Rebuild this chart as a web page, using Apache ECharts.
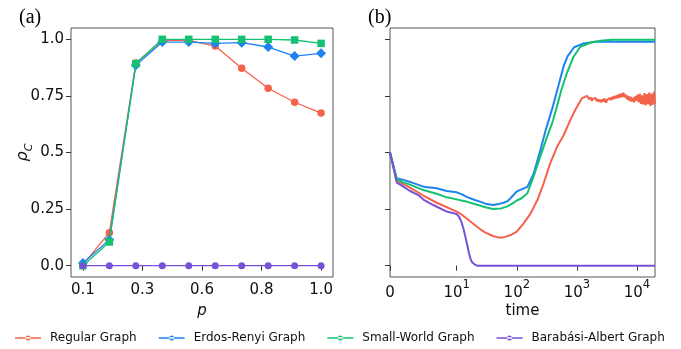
<!DOCTYPE html>
<html><head><meta charset="utf-8">
<script src="https://cdn.jsdelivr.net/npm/echarts@6/dist/echarts.min.js"></script>
<style>html,body{margin:0;padding:0;background:#fff}#c{width:681px;height:349px}</style>
</head><body><div id="c"></div>
<script>
// ---------- data ----------
const seriesNames = ['Regular Graph', 'Erdos-Renyi Graph', 'Small-World Graph', 'Barabási-Albert Graph'];

// panel (a): rho_C versus p
const pValues   = [0.1, 0.2, 0.3, 0.4, 0.5, 0.6, 0.7, 0.8, 0.9, 1.0];
const regularA  = [0.005, 0.146, 0.895, 0.995, 0.995, 0.970, 0.872, 0.784, 0.722, 0.674];
const erdosA    = [0.012, 0.115, 0.885, 0.988, 0.988, 0.982, 0.985, 0.966, 0.926, 0.938];
const smallA    = [0.000, 0.105, 0.893, 1.000, 1.000, 1.000, 1.000, 1.000, 0.997, 0.982];
const baA       = [0, 0, 0, 0, 0, 0, 0, 0, 0, 0];

const pTickValues   = [0.1, 0.325, 0.55, 0.775, 1.0];
const pTickLabels   = ['0.1', '0.3', '0.6', '0.8', '1.0'];
const rhoTickValues = [0, 0.25, 0.5, 0.75, 1.0];
const rhoTickLabels = ['0.0', '0.25', '0.5', '0.75', '1.0'];

// panel (b): rho_C versus time (symlog time axis)
const regularTime = [0, 1, 2, 3, 5, 7, 10, 12, 15, 20, 25, 30, 40, 50, 60, 80, 100, 130, 170, 220, 280, 360, 470, 600, 780, 940, 1100, 1210, 1300, 1470,
  1550, 1620, 1700, 1780, 1860, 1950, 2040, 2130, 2230, 2330, 2440, 2550, 2670, 2790, 2920, 3050, 3190, 3340, 3490, 3650, 3820, 4000, 4180, 4370, 4570,
  4780, 5000, 5230, 5470, 5720, 5980, 6250, 6540, 6840, 7150, 7480, 7820, 8180, 8550, 8940, 9350, 9780, 10230, 10700, 11190, 11700, 12240, 12800,
  13390, 14000, 14640, 15310, 16010, 16740, 17510, 18310, 19150, 20000];
const regularVal = [0.500, 0.379, 0.360, 0.345, 0.310, 0.278, 0.239, 0.226, 0.206, 0.180, 0.160, 0.146, 0.131, 0.124, 0.125, 0.136, 0.150, 0.187, 0.231, 0.290, 0.364, 0.452, 0.526, 0.575, 0.644, 0.688, 0.720, 0.739, 0.745, 0.750,
  0.742, 0.735, 0.744, 0.728, 0.738, 0.730, 0.741, 0.727, 0.736, 0.724, 0.733, 0.722, 0.735, 0.725, 0.738, 0.720, 0.732, 0.726, 0.741, 0.731, 0.746, 0.735, 0.749, 0.738, 0.752,
  0.740, 0.757, 0.742, 0.760, 0.745, 0.764, 0.744, 0.755, 0.735, 0.750, 0.728, 0.746, 0.725, 0.742, 0.722, 0.748, 0.728, 0.755, 0.722, 0.760, 0.715, 0.752, 0.712,
  0.762, 0.708, 0.758, 0.714, 0.765, 0.705, 0.760, 0.710, 0.768, 0.715];

const erdosTime = [0, 1, 2, 3, 5, 7, 8.5, 10, 12, 15, 20, 25, 30, 40, 50, 60, 70, 80, 100, 120, 150, 190, 250, 300, 400, 500, 600, 700, 900, 1300, 2000, 5000, 20000];
const erdosVal  = [0.500, 0.386, 0.379, 0.370, 0.349, 0.342, 0.330, 0.324, 0.316, 0.303, 0.290, 0.282, 0.274, 0.268, 0.272, 0.278, 0.285, 0.300, 0.328, 0.337, 0.348, 0.405, 0.515, 0.595, 0.705, 0.800, 0.880, 0.925, 0.965, 0.982, 0.989, 0.989, 0.989];

const smallTime = [0, 1, 2, 3, 5, 7, 8.5, 10, 12, 15, 18, 25, 30, 40, 55, 70, 85, 100, 120, 150, 190, 245, 320, 400, 465, 550, 680, 880, 1140, 1670, 2450, 3830, 8000, 20000];
const smallVal  = [0.500, 0.382, 0.368, 0.358, 0.334, 0.318, 0.302, 0.293, 0.288, 0.282, 0.276, 0.265, 0.258, 0.250, 0.253, 0.262, 0.275, 0.288, 0.298, 0.320, 0.393, 0.481, 0.570, 0.640, 0.702, 0.775, 0.850, 0.923, 0.967, 0.985, 0.994, 0.998, 0.998, 0.998];

const baTime = [0, 1, 2, 3, 4.25, 5, 6.5, 8.5, 10, 11, 12, 13, 14, 15, 16, 17, 18, 20, 22, 30, 100, 1000, 20000];
const baVal  = [0.500, 0.368, 0.349, 0.330, 0.312, 0.292, 0.268, 0.239, 0.228, 0.215, 0.192, 0.162, 0.125, 0.090, 0.055, 0.030, 0.015, 0.005, 0.000, 0.000, 0.000, 0.000, 0.000];

const timeTickValues = [0, 10, 100, 1000, 10000];
const timeTickLabels = ['0', '10^1', '10^2', '10^3', '10^4'];
const timeMax = 20000;

// ---------- styling ----------
const colors = ['#F4624A', '#1C83F0', '#14C170', '#7752D6'];
const FONT = 'DejaVu Sans';

// symmetric-log scale of the time axis (linear below 10, log above)
const LINTHRESH = 10, LINSCALE = 1 / (1 - 1 / 10);
function symlog(t) { return t <= LINTHRESH ? (t / LINTHRESH) * LINSCALE : LINSCALE + Math.log10(t / LINTHRESH); }
function pairs(xs, ys, f) { return xs.map((x, i) => [f ? f(x) : x, ys[i]]); }
function labelFor(vals, labs, v) {
  for (let i = 0; i < vals.length; i++) if (Math.abs(vals[i] - v) < 1e-6) return labs[i];
  return '';
}
const timeTickPos = timeTickValues.map(symlog);

const chart = echarts.init(document.getElementById('c'), null, { renderer: 'canvas' });

const tickStyle = { show: true, inside: false, length: 5, lineStyle: { color: '#333', width: 1 } };
const labelText = { color: '#111', fontFamily: FONT, fontSize: 15 };

const legendIcon = 'path://M0,1.8h26v1.4h-26z M10.5,2.5a2.5,2.5 0 1,0 5,0a2.5,2.5 0 1,0 -5,0z';

const aSeries = [regularA, erdosA, smallA, baA];
const aSymbols = ['circle', 'diamond', 'rect', 'circle'];
const aSizes = [7.5, 10, 7.5, 7];
const bSeries = [[regularTime, regularVal], [erdosTime, erdosVal], [smallTime, smallVal], [baTime, baVal]];

const series = [];
aSeries.forEach((vals, i) => {
  series.push({
    name: seriesNames[i], type: 'line', xAxisIndex: 0, yAxisIndex: 0,
    data: pairs(pValues, vals), symbol: aSymbols[i], symbolSize: aSizes[i], showSymbol: true,
    lineStyle: { color: colors[i], width: 1.3 }, itemStyle: { color: colors[i] },
    animation: false, z: 2 + i
  });
});
bSeries.forEach((d, i) => {
  series.push({
    name: seriesNames[i], type: 'line', xAxisIndex: 1, yAxisIndex: 1,
    data: pairs(d[0], d[1], symlog), showSymbol: false, symbol: 'none',
    lineStyle: { color: colors[i], width: 2 }, itemStyle: { color: colors[i] },
    animation: false, z: 2 + i
  });
});

const option = {
  backgroundColor: '#fff',
  animation: false,
  title: [
    { text: '(a)', left: 14, top: 3, textStyle: { fontFamily: 'Liberation Serif', fontSize: 20, fontWeight: 'normal', color: '#000' } },
    { text: '(b)', left: 363, top: 3, textStyle: { fontFamily: 'Liberation Serif', fontSize: 20, fontWeight: 'normal', color: '#000' } }
  ],
  legend: {
    left: 10, top: 327, itemWidth: 26, itemHeight: 5, itemGap: 22,
    icon: legendIcon,
    textStyle: { fontFamily: FONT, fontSize: 12, color: '#111', padding: [0, 0, 0, 4] },
    data: seriesNames
  },
  grid: [
    { left: 71, top: 28, width: 262, height: 249, show: true, borderColor: '#555', borderWidth: 1, backgroundColor: 'transparent' },
    { left: 390, top: 28, width: 265, height: 249, show: true, borderColor: '#555', borderWidth: 1, backgroundColor: 'transparent' }
  ],
  xAxis: [
    {
      gridIndex: 0, type: 'value', min: 0.055, max: 1.045,
      axisLine: { show: false }, splitLine: { show: false },
      axisTick: Object.assign({ customValues: pTickValues }, tickStyle),
      axisLabel: Object.assign({ customValues: pTickValues, margin: 6, formatter: v => labelFor(pTickValues, pTickLabels, v) }, labelText),
      name: 'p', nameLocation: 'middle', nameGap: 27, nameMoveOverlap: false,
      nameTextStyle: { fontFamily: FONT, fontSize: 15, fontStyle: 'italic', color: '#111' }
    },
    {
      gridIndex: 1, type: 'value', min: 0, max: symlog(timeMax),
      axisLine: { show: false }, splitLine: { show: false },
      axisTick: Object.assign({ customValues: timeTickPos }, tickStyle),
      axisLabel: {
        customValues: timeTickPos, margin: -2,
        formatter: v => {
          const s = labelFor(timeTickPos, timeTickLabels, v);
          const k = s.indexOf('^');
          return k < 0 ? '{b|' + s + '}' : '{b|' + s.slice(0, k) + '}{sup|' + s.slice(k + 1) + '}';
        },
        rich: {
          b: { fontFamily: FONT, fontSize: 15, color: '#111', lineHeight: 26, verticalAlign: 'bottom' },
          sup: { fontFamily: FONT, fontSize: 11.5, color: '#111', lineHeight: 14, verticalAlign: 'top', padding: [4, 0, 0, 0] }
        }
      },
      name: 'time', nameLocation: 'middle', nameGap: 27, nameMoveOverlap: false,
      nameTextStyle: { fontFamily: FONT, fontSize: 15, color: '#111' }
    }
  ],
  yAxis: [
    {
      gridIndex: 0, type: 'value', min: -0.05, max: 1.05,
      axisLine: { show: false }, splitLine: { show: false },
      axisTick: Object.assign({ customValues: rhoTickValues }, tickStyle),
      axisLabel: Object.assign({ customValues: rhoTickValues, margin: 7, formatter: v => labelFor(rhoTickValues, rhoTickLabels, v) }, labelText),
      name: '{r|ρ}{c|C}', nameLocation: 'middle', nameGap: 36, nameRotate: 90, nameMoveOverlap: false,
      nameTextStyle: {
        rich: {
          r: { fontFamily: FONT, fontSize: 16, fontStyle: 'italic', color: '#111', lineHeight: 20, verticalAlign: 'top' },
          c: { fontFamily: FONT, fontSize: 11, fontStyle: 'italic', color: '#111', lineHeight: 13, verticalAlign: 'bottom' }
        }
      }
    },
    {
      gridIndex: 1, type: 'value', min: -0.05, max: 1.05,
      axisLine: { show: false }, splitLine: { show: false },
      axisTick: Object.assign({ customValues: rhoTickValues }, tickStyle),
      axisLabel: { show: false }
    }
  ],
  series: series
};
chart.setOption(option);
</script>
</body></html>
